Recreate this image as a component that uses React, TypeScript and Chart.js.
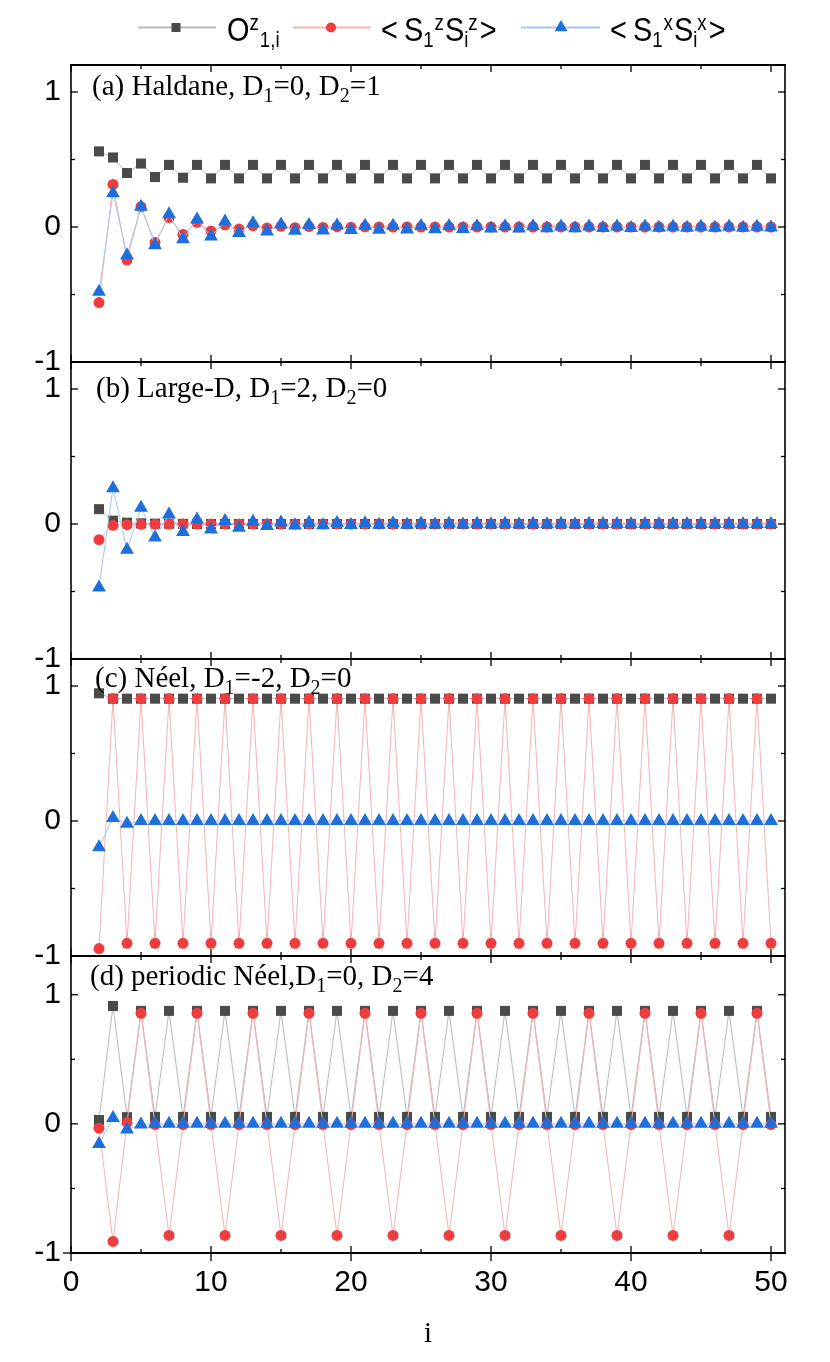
import React, { useEffect, useRef } from 'react';
import { Chart, registerables } from 'chart.js';

Chart.register(...registerables);

// ---------- data ----------
const xs = [2, 3, 4, 5, 6, 7, 8, 9, 10, 11, 12, 13, 14, 15, 16, 17, 18, 19, 20, 21, 22, 23, 24, 25, 26,
  27, 28, 29, 30, 31, 32, 33, 34, 35, 36, 37, 38, 39, 40, 41, 42, 43, 44, 45, 46, 47, 48, 49, 50];

const xTicksMajor = [0, 10, 20, 30, 40, 50];
const xTicksMinor = [5, 15, 25, 35, 45];
const yTicksMajor = [-1, 0, 1];
const yTicksMinor = [-0.5, 0.5];

// (a) Haldane
const haldaneO = [
  0.56, 0.515, 0.40, 0.47, 0.37, 0.46, 0.365, 0.46, 0.36, 0.46,
  0.36, 0.46, 0.36, 0.46, 0.36, 0.46, 0.36, 0.46, 0.36, 0.46,
  0.36, 0.46, 0.36, 0.46, 0.36, 0.46, 0.36, 0.46, 0.36, 0.46,
  0.36, 0.46, 0.36, 0.46, 0.36, 0.46, 0.36, 0.46, 0.36, 0.46,
  0.36, 0.46, 0.36, 0.46, 0.36, 0.46, 0.36, 0.46, 0.36];
const haldaneZ = [
  -0.56, 0.315, -0.245, 0.15, -0.115, 0.07, -0.055, 0.035, -0.03, 0.015,
  -0.015, 0.01, -0.008, 0.005, -0.005, 0.003, -0.003, 0.002, -0.002, 0.001,
  0, 0, 0, 0, 0, 0, 0, 0, 0, 0,
  0, 0, 0, 0, 0, 0, 0, 0, 0, 0,
  0, 0, 0, 0, 0, 0, 0, 0, 0];
const haldaneX = [
  -0.48, 0.25, -0.21, 0.15, -0.135, 0.095, -0.09, 0.055, -0.07, 0.04,
  -0.045, 0.027, -0.034, 0.018, -0.028, 0.015, -0.025, 0.012, -0.022, 0.01,
  -0.02, 0.009, -0.018, 0.008, -0.016, 0.007, -0.014, 0.006, -0.012, 0.005,
  -0.011, 0.005, -0.01, 0.004, -0.009, 0.004, -0.008, 0.003, -0.007, 0.003,
  -0.006, 0.002, -0.006, 0.002, -0.005, 0.002, -0.005, 0.001, -0.004];

// (b) Large-D
const largeDO = [
  0.11, 0.025, 0.01, 0.005, 0.003, 0.002, 0.001, 0, 0, 0,
  0, 0, 0, 0, 0, 0, 0, 0, 0, 0,
  0, 0, 0, 0, 0, 0, 0, 0, 0, 0,
  0, 0, 0, 0, 0, 0, 0, 0, 0, 0,
  0, 0, 0, 0, 0, 0, 0, 0, 0];
const largeDZ = [
  -0.116, -0.01, -0.005, -0.002, -0.001, 0, 0, 0, 0, 0,
  0, 0, 0, 0, 0, 0, 0, 0, 0, 0,
  0, 0, 0, 0, 0, 0, 0, 0, 0, 0,
  0, 0, 0, 0, 0, 0, 0, 0, 0, 0,
  0, 0, 0, 0, 0, 0, 0, 0, 0];
const largeDX = [
  -0.47, 0.265, -0.19, 0.12, -0.10, 0.07, -0.06, 0.034, -0.04, 0.022,
  -0.027, 0.017, -0.015, 0.012, -0.012, 0.01, -0.01, 0.008, -0.008, 0.006,
  -0.006, 0.005, -0.005, 0.004, -0.004, 0.003, -0.003, 0.002, -0.002, 0.002,
  -0.002, 0.001, -0.001, 0.001, -0.001, 0.001, 0, 0, 0, 0,
  0, 0, 0, 0, 0, 0, 0, 0, 0];

// (c) Néel
const neelO = [
  0.946, 0.906, 0.906, 0.906, 0.906, 0.906, 0.906, 0.906, 0.906, 0.906,
  0.906, 0.906, 0.906, 0.906, 0.906, 0.906, 0.906, 0.906, 0.906, 0.906,
  0.906, 0.906, 0.906, 0.906, 0.906, 0.906, 0.906, 0.906, 0.906, 0.906,
  0.906, 0.906, 0.906, 0.906, 0.906, 0.906, 0.906, 0.906, 0.906, 0.906,
  0.906, 0.906, 0.906, 0.906, 0.906, 0.906, 0.906, 0.906, 0.906];
const neelZ = [
  -0.945, 0.906, -0.906, 0.906, -0.906, 0.906, -0.906, 0.906, -0.906, 0.906,
  -0.906, 0.906, -0.906, 0.906, -0.906, 0.906, -0.906, 0.906, -0.906, 0.906,
  -0.906, 0.906, -0.906, 0.906, -0.906, 0.906, -0.906, 0.906, -0.906, 0.906,
  -0.906, 0.906, -0.906, 0.906, -0.906, 0.906, -0.906, 0.906, -0.906, 0.906,
  -0.906, 0.906, -0.906, 0.906, -0.906, 0.906, -0.906, 0.906, -0.906];
const neelX = [
  -0.195, 0.022, -0.02, 0, 0, 0, 0, 0, 0, 0,
  0, 0, 0, 0, 0, 0, 0, 0, 0, 0,
  0, 0, 0, 0, 0, 0, 0, 0, 0, 0,
  0, 0, 0, 0, 0, 0, 0, 0, 0, 0,
  0, 0, 0, 0, 0, 0, 0, 0, 0];

// (d) periodic Néel
const periodicO = [
  0.03, 0.913, 0.052, 0.875, 0.054, 0.875, 0.054, 0.875, 0.054, 0.875,
  0.054, 0.875, 0.054, 0.875, 0.054, 0.875, 0.054, 0.875, 0.054, 0.875,
  0.054, 0.875, 0.054, 0.875, 0.054, 0.875, 0.054, 0.875, 0.054, 0.875,
  0.054, 0.875, 0.054, 0.875, 0.054, 0.875, 0.054, 0.875, 0.054, 0.875,
  0.054, 0.875, 0.054, 0.875, 0.054, 0.875, 0.054, 0.875, 0.054];
const periodicZ = [
  -0.033, -0.91, 0.01, 0.856, -0.005, -0.864, -0.005, 0.856, -0.005, -0.864,
  -0.005, 0.856, -0.005, -0.864, -0.005, 0.856, -0.005, -0.864, -0.005, 0.856,
  -0.005, -0.864, -0.005, 0.856, -0.005, -0.864, -0.005, 0.856, -0.005, -0.864,
  -0.005, 0.856, -0.005, -0.864, -0.005, 0.856, -0.005, -0.864, -0.005, 0.856,
  -0.005, -0.864, -0.005, 0.856, -0.005, -0.864, -0.005, 0.856, -0.005];
const periodicX = [
  -0.155, 0.046, -0.044, -0.005, 0, 0, 0, 0, 0, 0,
  0, 0, 0, 0, 0, 0, 0, 0, 0, 0,
  0, 0, 0, 0, 0, 0, 0, 0, 0, 0,
  0, 0, 0, 0, 0, 0, 0, 0, 0, 0,
  0, 0, 0, 0, 0, 0, 0, 0, 0];

const panelIds = ['ya', 'yb', 'yc', 'yd'];
const panelMax = [1.2, 1.2, 1.2, 1.3];
const panelSeries = [
  [haldaneO, haldaneZ, haldaneX],
  [largeDO, largeDZ, largeDX],
  [neelO, neelZ, neelX],
  [periodicO, periodicZ, periodicX],
];

// ---------- style ----------
const SANS = '"Liberation Sans", Arial, sans-serif';
const SERIF = '"Liberation Serif", "Times New Roman", serif';
const C_SQ = '#4a4a4a';
const C_SQ_LINE = '#b9b9b9';
const C_CI = '#f03c3c';
const C_CI_LINE = '#f6b2b2';
const C_TR = '#1c6fdc';
const C_TR_LINE = '#a6c7f0';

type Seg = { t: string; size: number; dy: number; gap?: number };

function drawRich(ctx: CanvasRenderingContext2D, x: number, y: number, segs: Seg[], family: string, sx: number) {
  let cx = x;
  for (const s of segs) {
    cx += s.gap || 0;
    ctx.font = `${s.size}px ${family}`;
    const w = ctx.measureText(s.t).width * sx;
    ctx.save();
    ctx.translate(cx, y + s.dy);
    ctx.scale(sx, 1);
    ctx.fillText(s.t, 0, 0);
    ctx.restore();
    cx += w;
  }
}

const sub = (t: string, size = 20, dy = 7): Seg => ({ t, size, dy });
const main = (t: string, size = 29): Seg => ({ t, size, dy: 0 });

const panelLabels: { dx: number; dy: number; segs: Seg[] }[] = [
  { dx: 21, dy: 30, segs: [main('(a) Haldane, D'), sub('1'), main('=0, D'), sub('2'), main('=1')] },
  { dx: 25, dy: 35, segs: [main('(b) Large-D, D'), sub('1'), main('=2, D'), sub('2'), main('=0')] },
  { dx: 24, dy: 28, segs: [main('(c) Néel, D'), sub('1'), main('=-2, D'), sub('2'), main('=0')] },
  { dx: 19, dy: 29, segs: [main('(d) periodic Néel,D'), sub('1'), main('=0, D'), sub('2'), main('=4')] },
];

const decorPlugin = {
  id: 'decor',
  afterDatasetsDraw(chart: any) {
    const ctx: CanvasRenderingContext2D = chart.ctx;
    const xs_ = chart.scales.x;
    const L = xs_.left, R = xs_.right;
    ctx.save();
    ctx.strokeStyle = '#000';
    ctx.fillStyle = '#000';
    const seg = (x1: number, y1: number, x2: number, y2: number, w: number) => {
      ctx.lineWidth = w;
      ctx.beginPath();
      ctx.moveTo(x1, y1);
      ctx.lineTo(x2, y2);
      ctx.stroke();
    };
    let topAll = Infinity, botAll = -Infinity;
    panelIds.forEach((id, k) => {
      const ys = chart.scales[id];
      topAll = Math.min(topAll, ys.top);
      botAll = Math.max(botAll, ys.bottom);
      seg(L - 1, ys.top, R + 1, ys.top, 2);
      seg(L - 1, ys.bottom, R + 1, ys.bottom, 2);
      for (const v of xTicksMajor) {
        const px = xs_.getPixelForValue(v);
        seg(px, ys.top, px, ys.top + 7, 1.3);
        seg(px, ys.bottom, px, ys.bottom - 7, 1.3);
      }
      for (const v of xTicksMinor) {
        const px = xs_.getPixelForValue(v);
        seg(px, ys.top, px, ys.top + 4, 1.3);
        seg(px, ys.bottom, px, ys.bottom - 4, 1.3);
      }
      for (const v of yTicksMajor) {
        const py = ys.getPixelForValue(v);
        seg(L, py, L + 7, py, 1.3);
        seg(R, py, R - 7, py, 1.3);
      }
      for (const v of yTicksMinor) {
        const py = ys.getPixelForValue(v);
        seg(L, py, L + 4, py, 1.3);
        seg(R, py, R - 4, py, 1.3);
      }
      const lab = panelLabels[k];
      ctx.fillStyle = '#000';
      drawRich(ctx, L + lab.dx, ys.top + lab.dy, lab.segs, SERIF, 1);
    });
    seg(L, topAll - 1, L, botAll + 1, 1.6);
    seg(R, topAll - 1, R, botAll + 1, 1.6);
    for (const v of xTicksMajor) {
      const px = xs_.getPixelForValue(v);
      seg(px, botAll, px, botAll + 8, 1.3);
    }
    const yd = chart.scales.yd;
    const pm1 = yd.getPixelForValue(-1);
    seg(L - 8, pm1, L, pm1, 1.3);

    // legend
    const ly = 27.5;
    ctx.lineWidth = 2;
    ctx.strokeStyle = C_SQ_LINE;
    ctx.beginPath(); ctx.moveTo(138, ly); ctx.lineTo(216, ly); ctx.stroke();
    ctx.fillStyle = C_SQ;
    ctx.fillRect(176 - 4.5, ly - 4.5, 9, 9);
    ctx.strokeStyle = C_CI_LINE;
    ctx.beginPath(); ctx.moveTo(293, ly); ctx.lineTo(371, ly); ctx.stroke();
    ctx.fillStyle = C_CI;
    ctx.beginPath(); ctx.arc(331, ly, 5, 0, Math.PI * 2); ctx.fill();
    ctx.strokeStyle = C_TR_LINE;
    ctx.beginPath(); ctx.moveTo(521, ly); ctx.lineTo(600, ly); ctx.stroke();
    ctx.fillStyle = C_TR;
    const tr = 7.5;
    ctx.beginPath();
    ctx.moveTo(561, ly - tr);
    ctx.lineTo(561 + tr * 0.866, ly + tr * 0.5);
    ctx.lineTo(561 - tr * 0.866, ly + tr * 0.5);
    ctx.closePath(); ctx.fill();

    ctx.fillStyle = '#000';
    const base = 41;
    const sx = 0.85;
    drawRich(ctx, 227, base, [
      { t: 'O', size: 34, dy: 0 }, { t: 'z', size: 22, dy: -11 }, { t: '1,i', size: 22, dy: 6, gap: 1 },
    ], SANS, sx);
    const sSegs = (c: string): Seg[] => [
      { t: '<', size: 34, dy: 0 }, { t: 'S', size: 34, dy: 0, gap: 6 },
      { t: '1', size: 22, dy: 6 }, { t: c, size: 22, dy: -11, gap: 1 }, { t: 'S', size: 34, dy: 0, gap: 1 },
      { t: 'i', size: 22, dy: 6 }, { t: c, size: 22, dy: -11 }, { t: '>', size: 34, dy: 0, gap: 2 },
    ];
    drawRich(ctx, 381, base, sSegs('z'), SANS, sx);
    drawRich(ctx, 610, base, sSegs('x'), SANS, sx);
    ctx.restore();
  },
};

export default function App() {
  const ref = useRef<HTMLCanvasElement | null>(null);
  useEffect(() => {
    if (!ref.current) return;
    const datasets: any[] = [];
    panelIds.forEach((id, k) => {
      const [o, z, x] = panelSeries[k];
      datasets.push({
        label: 'O', yAxisID: id, xAxisID: 'x', order: 3,
        data: xs.map((v, i) => ({ x: v, y: o[i] })),
        borderColor: C_SQ_LINE, borderWidth: 1, backgroundColor: C_SQ,
        pointStyle: 'rect', pointRadius: 7.1, pointBackgroundColor: C_SQ, pointBorderWidth: 0,
      });
      datasets.push({
        label: 'SzSz', yAxisID: id, xAxisID: 'x', order: 2,
        data: xs.map((v, i) => ({ x: v, y: z[i] })),
        borderColor: C_CI_LINE, borderWidth: 1, backgroundColor: C_CI,
        pointStyle: 'circle', pointRadius: 5.5, pointBackgroundColor: C_CI, pointBorderWidth: 0,
      });
      datasets.push({
        label: 'SxSx', yAxisID: id, xAxisID: 'x', order: 1,
        data: xs.map((v, i) => ({ x: v, y: x[i] })),
        borderColor: C_TR_LINE, borderWidth: 1, backgroundColor: C_TR,
        pointStyle: 'triangle', pointRadius: 8, pointBackgroundColor: C_TR, pointBorderWidth: 0,
      });
    });

    const scales: any = {
      x: {
        type: 'linear', position: 'bottom', min: 0, max: 51,
        afterBuildTicks: (s: any) => { s.ticks = xTicksMajor.map((v) => ({ value: v })); },
        afterFit: (s: any) => { s.height = 109; },
        grid: { display: false, drawTicks: false }, border: { display: false },
        ticks: { font: { family: SANS, size: 30 }, color: '#000', padding: 12, maxRotation: 0 },
        title: { display: true, text: 'i', font: { family: SERIF, size: 29 }, color: '#000', padding: { top: 0, bottom: 10 } },
      },
    };
    panelIds.forEach((id, k) => {
      scales[id] = {
        type: 'linear', position: 'left', stack: 'panels', stackWeight: 1, weight: 4 - k,
        min: -1, max: panelMax[k],
        afterBuildTicks: (s: any) => { s.ticks = yTicksMajor.map((v) => ({ value: v })); },
        afterFit: (s: any) => { s.width = 71; },
        grid: { display: false, drawTicks: false }, border: { display: false },
        ticks: { font: { family: SANS, size: 30 }, color: '#000', padding: 10 },
      };
    });

    const chart = new Chart(ref.current, {
      type: 'line',
      data: { datasets },
      options: {
        animation: false,
        responsive: false,
        events: [],
        layout: { padding: { left: 0, right: 45, top: 65, bottom: 0 } },
        plugins: { legend: { display: false }, tooltip: { enabled: false } },
        scales,
      },
      plugins: [decorPlugin],
    } as any);
    return () => chart.destroy();
  }, []);

  return (
    <div style={{ position: 'absolute', left: 0, top: 0, width: 830, height: 1362, background: '#fff' }}>
      <canvas ref={ref} width={830} height={1362} style={{ display: 'block' }} />
    </div>
  );
}
